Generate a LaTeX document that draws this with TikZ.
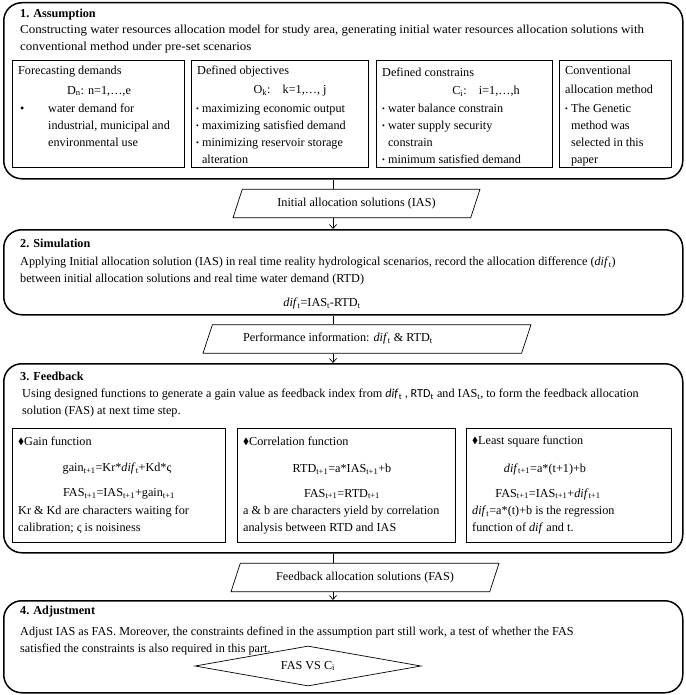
\documentclass[tikz,border=0pt]{standalone}
\usepackage{amssymb}
\usepackage{fontspec}
\setmainfont{Liberation Serif}
\newfontfamily\calib{Carlito}
\usetikzlibrary{shapes.geometric,arrows.meta}
\newcommand\myfs{\fontsize{12.2}{17}\selectfont}
\newcommand\wide[1]{\scalebox{1.06}[1]{#1}}
\newcommand\smb{{\fontsize{8}{8}\selectfont\raisebox{1pt}{\textbullet}}}
\newcommand\dmd{{\fontsize{9}{9}\selectfont\raisebox{0.5pt}{$\blacklozenge$}}}
\begin{document}
\begin{tikzpicture}[x=1pt,y=-1pt,
  bigbox/.style={draw, line width=1.5pt, rounded corners=18pt, anchor=north west, inner sep=0pt},
  subbox/.style={draw, line width=0.7pt, anchor=north west, inner sep=0pt},
  para/.style={draw, line width=0.7pt, trapezium, trapezium left angle=50, trapezium right angle=130, trapezium stretches body, minimum height=28.5pt, inner sep=0pt, font=\myfs},
  dia/.style={draw, line width=0.7pt, diamond, aspect=5.6, minimum width=226pt, minimum height=40pt, inner sep=0pt, font=\myfs},
  ttl/.style={font=\myfs\bfseries, inner sep=0pt, anchor=west},
  txt/.style={font=\myfs, inner sep=0pt, anchor=west},
  ptxt/.style={font=\myfs, inner sep=0pt, anchor=north west, align=left},
  ctxt/.style={font=\myfs, inner sep=0pt},
  conn/.style={line width=0.7pt},
  arr/.style={line width=0.7pt, -{Straight Barb[length=4pt,width=7pt]}}
]
\useasboundingbox (0,0) rectangle (685,695);
\coordinate (cx) at (333,0);

% ---------- 1. Assumption ----------
\node[bigbox, minimum width=679pt, minimum height=176pt] (b1) at (3,2) {};
\node[ttl] (t1) at (20,15) {1. Assumption};
\node[ptxt] (d1) at (20,25) {\wide{Constructing water resources allocation model for study area, generating initial water resources allocation solutions with}\\\wide{conventional method under pre-set scenarios}};

\node[subbox, minimum width=172pt, minimum height=107pt] (s1) at (12,60) {};
\node[txt] (s1a) at (18,72) {Forecasting demands};
\node[ctxt] (s1b) at (99,91) {D\textsubscript{n}: n=1,\dots,e};
\node[txt] (s1c) at (20,110) {\textbullet};
\node[ptxt] (s1d) at (48,104) {water demand for\\industrial, municipal and\\environmental use};

\node[subbox, minimum width=177pt, minimum height=107pt] (s2) at (191,60) {};
\node[txt] (s2a) at (197,72) {Defined objectives};
\node[ctxt] (s2b) at (290,91) {O\textsubscript{k}:\quad k=1,\dots, j};
\node[ptxt] (s2c) at (196,104) {\smb\ maximizing economic output\\\smb\ maximizing satisfied demand\\\smb\ minimizing reservoir storage\\\phantom{\smb\ }alteration};

\node[subbox, minimum width=176pt, minimum height=107pt] (s3) at (376,60) {};
\node[txt] (s3a) at (382,72) {Defined constrains};
\node[ctxt] (s3b) at (486,91) {C\textsubscript{i}:\quad i=1,\dots,h};
\node[ptxt] (s3c) at (382,104) {\smb\ water balance constrain\\\smb\ water supply security\\\phantom{\smb\ }constrain\\\smb\ minimum satisfied demand};

\node[subbox, minimum width=112pt, minimum height=107pt] (s4) at (559,60) {};
\node[ptxt, align=left, font=\fontsize{12.2}{18.5}\selectfont] (s4a) at (565,66) {Conventional\\allocation method};
\node[ptxt] (s4b) at (565,104) {\smb\ The Genetic\\\phantom{\smb\ }method was\\\phantom{\smb\ }selected in this\\\phantom{\smb\ }paper};

% ---------- parallelogram 1 ----------
\node[para, minimum width=247pt] (p1) at (356.5,203.5) {Initial allocation solutions (IAS)};

% ---------- 2. Simulation ----------
\node[bigbox, minimum width=679pt, minimum height=85pt] (b2) at (3,229) {};
\node[ttl] (t2) at (20,243) {2. Simulation};
\node[ptxt] (d2) at (20,257) {Applying Initial allocation solution (IAS) in real time reality hydrological scenarios, record the allocation difference (\textit{dif}\textsubscript{t})\\between initial allocation solutions and real time water demand (RTD)};
\node[ctxt] (e2) at (322,304) {\textit{dif}\textsubscript{t}=IAS\textsubscript{t}-RTD\textsubscript{t}};

% ---------- parallelogram 2 ----------
\node[para, minimum width=328pt] (p2) at (367,339) {Performance information: \textit{dif}\textsubscript{t} \& RTD\textsubscript{t}\hspace*{58pt}};

% ---------- 3. Feedback ----------
\node[bigbox, minimum width=679pt, minimum height=189pt] (b3) at (3,363) {};
\node[ttl] (t3) at (20,376) {3. Feedback};
\node[ptxt] (d3) at (22,389) {Using designed functions to generate a gain value as feedback index from {\calib\textit{dif}\textsubscript{t} , RTD\textsubscript{t}} and IAS\textsubscript{t}, to form the feedback allocation\\solution (FAS) at next time step.};

\node[subbox, minimum width=213pt, minimum height=114pt] (f1) at (12,428) {};
\node[txt] (f1a) at (18,441) {\dmd Gain function};
\node[ctxt] (f1b) at (117,469) {gain\textsubscript{t+1}=Kr*\textit{dif}\textsubscript{t}+Kd*ς};
\node[ctxt] (f1c) at (119,494) {FAS\textsubscript{t+1}=IAS\textsubscript{t+1}+gain\textsubscript{t+1}};
\node[ptxt] (f1d) at (18,506) {Kr \& Kd are characters waiting for\\calibration; ς is noisiness};

\node[subbox, minimum width=218pt, minimum height=114pt] (f2) at (237,428) {};
\node[txt] (f2a) at (243,441) {\dmd Correlation function};
\node[ctxt] (f2b) at (342,469) {RTD\textsubscript{t+1}=a*IAS\textsubscript{t+1}+b};
\node[ctxt] (f2c) at (342,494) {FAS\textsubscript{t+1}=RTD\textsubscript{t+1}};
\node[ptxt] (f2d) at (243,506) {a \& b are characters yield by correlation\\analysis between RTD and IAS};

\node[subbox, minimum width=205pt, minimum height=114pt] (f3) at (466,428) {};
\node[txt] (f3a) at (472,441) {\dmd Least square function};
\node[ctxt] (f3b) at (545,469) {\textit{dif}\textsubscript{t+1}=a*(t+1)+b};
\node[ctxt] (f3c) at (548,494) {FAS\textsubscript{t+1}=IAS\textsubscript{t+1}+\textit{dif}\textsubscript{t+1}};
\node[ptxt] (f3d) at (472,506) {\textit{dif}\textsubscript{t}=a*(t)+b is the regression\\function of \textit{dif} and t.};

% ---------- parallelogram 3 ----------
\node[para, minimum width=268pt] (p3) at (365,577.5) {Feedback allocation solutions (FAS)};

% ---------- 4. Adjustment ----------
\node[bigbox, minimum width=679pt, minimum height=92pt] (b4) at (3,600) {};
\node[ttl] (t4) at (20,612) {4. Adjustment};
\node[ptxt] (d4) at (20,627) {Adjust IAS as FAS. Moreover, the constraints defined in the assumption part still work, a test of whether the FAS\\satisfied the constraints is also required in this part.};
\node[dia] (dm) at (308,666) {FAS VS C\textsubscript{i}};

% ---------- connectors ----------
\draw[conn] (b1.south -| cx) -- (p1.north -| cx);
\draw[arr] (p1.south -| cx) -- (b2.north -| cx);
\draw[conn] (b2.south -| cx) -- (p2.north -| cx);
\draw[arr] (p2.south -| cx) -- (b3.north -| cx);
\draw[conn] (b3.south -| cx) -- (p3.north -| cx);
\draw[arr] (p3.south -| cx) -- (b4.north -| cx);
\end{tikzpicture}
\end{document}
